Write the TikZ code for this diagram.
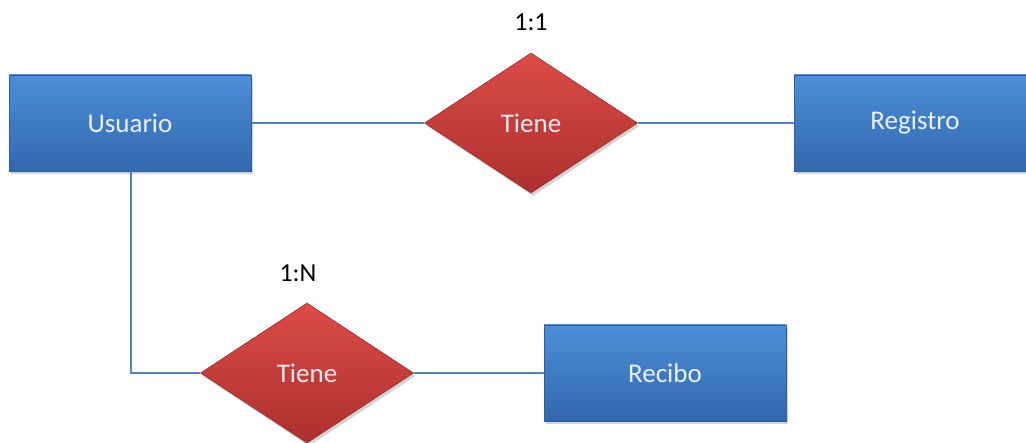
\documentclass[tikz,border=0pt]{standalone}
\usepackage{fontspec}
\setmainfont{Carlito}
\usetikzlibrary{shapes.geometric,shadows}
\definecolor{entTop}{RGB}{78,142,216}
\definecolor{entBot}{RGB}{50,104,172}
\definecolor{entEdge}{RGB}{46,94,156}
\definecolor{relTop}{RGB}{218,76,72}
\definecolor{relBot}{RGB}{172,48,46}
\definecolor{relEdge}{RGB}{150,44,42}
\definecolor{link}{RGB}{79,129,189}
\definecolor{entText}{RGB}{232,240,252}
\definecolor{relText}{RGB}{252,232,236}
\tikzset{
  entity/.style={rectangle, minimum width=242pt, minimum height=96pt, inner sep=0pt,
    top color=entTop, bottom color=entBot, draw=entEdge, line width=0.6pt,
    drop shadow={opacity=0.35, shadow xshift=2pt, shadow yshift=-3pt},
    text=entText, font=\fontsize{27}{30}\selectfont},
  relation/.style={diamond, aspect=1.52, minimum width=213pt, minimum height=140pt, inner sep=0pt,
    top color=relTop, bottom color=relBot, draw=relEdge, line width=0.6pt,
    drop shadow={opacity=0.35, shadow xshift=2pt, shadow yshift=-3pt},
    text=relText, font=\fontsize{27}{30}\selectfont},
  card/.style={text=black, font=\fontsize{26}{30}\selectfont},
  link/.style={draw=link, line width=1.1pt}
}
\begin{document}
\begin{tikzpicture}[x=1pt,y=-1pt]
  \useasboundingbox (0,0) rectangle (1026,443);
  % corner of the elbow connector below Usuario
  \coordinate (bend) at (131,373);
  % entities and relationships
  \node[entity] (usuario) at (130,123) {Usuario};
  \node[entity] (registro) at (915,123) {Registro};
  \node[entity] (recibo) at (665,373) {Recibo};
  \node[relation] (tiene1) at (531,123) {Tiene};
  \node[relation] (tiene2) at (307,373) {Tiene};
  % cardinalities
  \node[card] (c1) at (531,22) {1:1};
  \node[card] (c2) at (298,273) {1:N};
  % connectors
  \draw[link] (usuario.east) -- (tiene1.west);
  \draw[link] (tiene1.east) -- (registro.west);
  \draw[link] (usuario.south -| bend) -- (bend) -- (tiene2.west);
  \draw[link] (tiene2.east) -- (recibo.west);
\end{tikzpicture}
\end{document}
